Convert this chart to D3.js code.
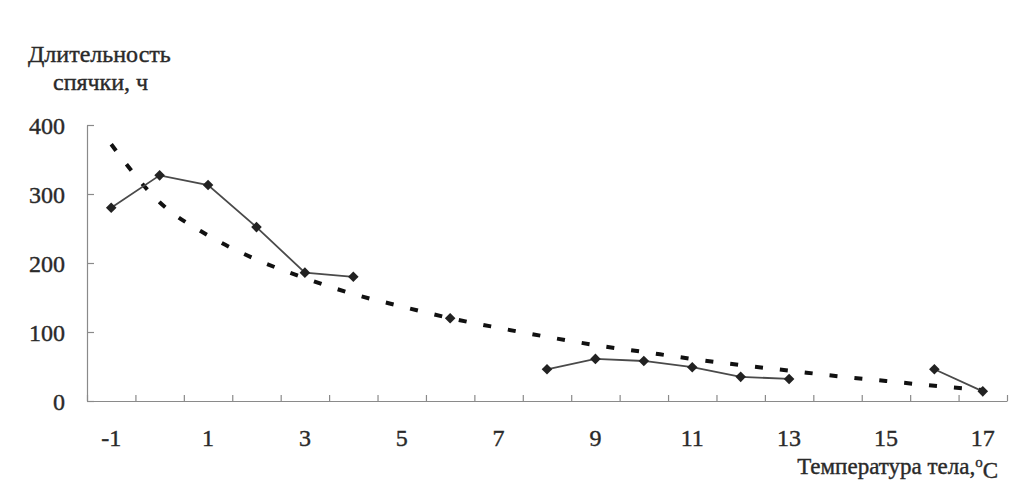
<!DOCTYPE html>
<html>
<head>
<meta charset="utf-8">
<script src="https://cdn.jsdelivr.net/npm/d3@7"></script>
<style>
  body { margin: 0; background: #fff; }
</style>
</head>
<body>
<svg id="chart" width="1016" height="494"></svg>
<script>
// categories (body temperature, °C)
const temps = [-1, 0, 1, 2, 3, 4, 5, 6, 7, 8, 9, 10, 11, 12, 13, 14, 15, 16, 17];
// hibernation length, h (null = no observation)
const duration = [280, 327, 313, 252, 186, 180, null, 120, null, 46, 61, 58, 49, 35, 32, null, null, 46, 14];
// trend line
const trend = [372, 288, 240, 205, 178, 155, 137, 120, 106, 93, 81, 71, 61, 52, 44, 36, 29, 22, 16];
const yTicks = [0, 100, 200, 300, 400];
const xLabels = [-1, 1, 3, 5, 7, 9, 11, 13, 15, 17];

const FONT = '"Liberation Serif", "Times New Roman", "DejaVu Serif", serif';

const svg = d3.select('#chart');
const plot = { left: 87, right: 1007, top: 125, bottom: 401 };

const x = d3.scaleBand()
  .domain(temps)
  .range([plot.left, plot.right])
  .padding(0);
const cx = d => x(d) + x.bandwidth() / 2;

const y = d3.scaleLinear()
  .domain([0, 400])
  .range([plot.bottom, plot.top]);

const axisColor = '#8a8a8a';

// y axis, ticks pointing inside
const gy = svg.append('g')
  .attr('transform', `translate(${plot.left},0)`)
  .call(d3.axisLeft(y).tickValues(yTicks).tickSizeInner(-7).tickSizeOuter(0).tickPadding(22));
gy.selectAll('text').attr('dy', '0.36em');

// x axis, ticks at category boundaries
const xb = d3.scaleLinear().domain([0, temps.length]).range([plot.left, plot.right]);
svg.append('g')
  .attr('transform', `translate(0,${plot.bottom})`)
  .call(d3.axisTop(xb).ticks(temps.length).tickSizeInner(6).tickSizeOuter(0).tickFormat(''));

const gx = svg.append('g')
  .attr('transform', `translate(0,${plot.bottom})`)
  .call(d3.axisBottom(x).tickValues(xLabels).tickSize(0).tickPadding(28));
gx.select('.domain').remove();

svg.selectAll('.domain, .tick line')
  .attr('stroke', axisColor)
  .attr('stroke-width', 1.2);

// trend line
svg.append('path')
  .datum(temps.map((t, i) => [t, trend[i]]))
  .attr('fill', 'none')
  .attr('stroke', '#111')
  .attr('stroke-width', 4)
  .attr('stroke-dasharray', '8,17')
  .attr('d', d3.line()
    .x(d => cx(d[0]))
    .y(d => y(d[1]))
    .curve(d3.curveMonotoneX));

// data series
const pts = temps.map((t, i) => [t, duration[i]]);
svg.append('path')
  .datum(pts)
  .attr('fill', 'none')
  .attr('stroke', '#4a4a4a')
  .attr('stroke-width', 1.8)
  .attr('d', d3.line()
    .defined(d => d[1] !== null)
    .x(d => cx(d[0]))
    .y(d => y(d[1])));

svg.append('g')
  .selectAll('path')
  .data(pts.filter(d => d[1] !== null))
  .enter().append('path')
  .attr('d', d3.symbol().type(d3.symbolSquare).size(56))
  .attr('transform', d => `translate(${cx(d[0])},${y(d[1])}) rotate(45)`)
  .attr('fill', '#222');

// axis titles
svg.append('text')
  .attr('x', 28).attr('y', 62)
  .text('Длительность');
svg.append('text')
  .attr('x', 53).attr('y', 90)
  .text('спячки, ч');

const xt = svg.append('text')
  .attr('class', 'xtitle')
  .attr('x', 998).attr('y', 474)
  .attr('text-anchor', 'end');
xt.append('tspan').text('Температура тела,');
xt.append('tspan').attr('dy', '-0.45em').style('font-size', '15px').text('o');
xt.append('tspan').attr('dy', '0.45em').text('C');

svg.selectAll('text')
  .attr('font-family', null)
  .style('font-family', FONT)
  .style('font-size', function () { return this.style.fontSize || '24px'; })
  .style('fill', '#2a2a2a')
  .style('stroke', '#2a2a2a')
  .style('stroke-width', '0.4px');
xt.style('font-size', '23px');
</script>
</body>
</html>
